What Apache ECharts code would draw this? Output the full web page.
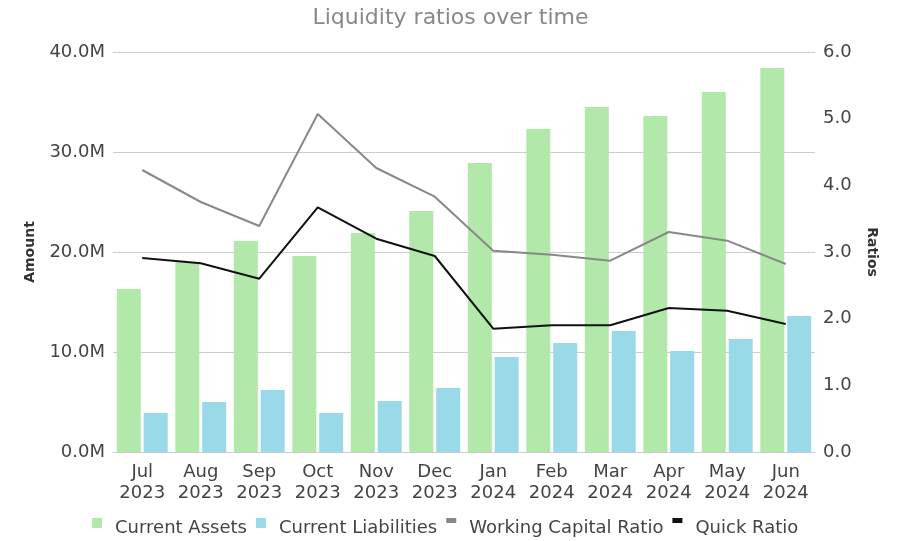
<!DOCTYPE html>
<html>
<head>
<meta charset="utf-8">
<script src="https://cdn.jsdelivr.net/npm/echarts@6/dist/echarts.min.js"></script>
<style>
  html, body { margin: 0; padding: 0; background: #fff; }
  #chart { width: 901px; height: 541px; }
</style>
</head>
<body>
<div id="chart"></div>
<script>
// months on the x axis
var months = ["Jul\n2023", "Aug\n2023", "Sep\n2023", "Oct\n2023", "Nov\n2023", "Dec\n2023",
  "Jan\n2024", "Feb\n2024", "Mar\n2024", "Apr\n2024", "May\n2024", "Jun\n2024"];
// amounts (in dollars)
var currentAssets = [16300000, 19000000, 21100000, 19600000, 21900000, 24100000,
  28900000, 32300000, 34500000, 33600000, 36000000, 38400000];
var currentLiabilities = [3900000, 5000000, 6200000, 3900000, 5100000, 6400000,
  9500000, 10900000, 12100000, 10100000, 11300000, 13600000];
// ratios
var workingCapitalRatio = [4.23, 3.75, 3.39, 5.07, 4.26, 3.83, 3.02, 2.96, 2.87, 3.30, 3.17, 2.82];
var quickRatio = [2.91, 2.83, 2.60, 3.67, 3.20, 2.94, 1.85, 1.90, 1.90, 2.16, 2.12, 1.92];

(function () {
  var myChart = echarts.init(document.getElementById('chart'));
  var font = 'DejaVu Sans, Verdana, sans-serif';
  // 图例图标：方块 / 细条，右侧留白
  var boxIcon = 'path://M0,0L10,0L10,10L0,10Z M17.99,19.99L18,19.99L18,20Z';
  var lineIcon = 'path://M0,0L10,0L10,5L0,5Z M17.99,19.99L18,19.99L18,20Z';

  var option = {
    textStyle: { fontFamily: font },
    title: {
      text: 'Liquidity ratios over time',
      left: 'center',
      top: 2,
      textStyle: { color: '#888', fontSize: 22, fontWeight: 'normal', fontFamily: font }
    },
    legend: {
      bottom: -2,
      left: 87,
      itemWidth: 18,
      itemHeight: 20,
      itemGap: 9,
      textStyle: { color: '#444', fontSize: 18, fontFamily: font },
      data: [
        { name: 'Current Assets', icon: boxIcon },
        { name: 'Current Liabilities', icon: boxIcon },
        { name: 'Working Capital Ratio', icon: lineIcon },
        { name: 'Quick Ratio', icon: lineIcon }
      ]
    },
    grid: {
      left: 113,
      right: 86,
      top: 52,
      bottom: 89
    },
    xAxis: {
      type: 'category',
      data: months,
      axisTick: { show: false },
      axisLine: { lineStyle: { color: '#ccc' } },
      axisLabel: { color: '#444', fontSize: 18, lineHeight: 21, margin: 10, interval: 0, hideOverlap: false, fontFamily: font }
    },
    yAxis: [{
      type: 'value',
      name: 'Amount',
      nameLocation: 'middle',
      nameRotate: 90,
      nameGap: 76,
      nameTextStyle: { color: '#333', fontSize: 14, fontWeight: 'bold', fontFamily: font },
      min: 0,
      max: 40000000,
      interval: 10000000,
      axisLine: { show: false },
      axisTick: { show: false },
      axisLabel: {
        color: '#444', fontSize: 18, margin: 8, fontFamily: font,
        formatter: function (v) { return (v / 1000000).toFixed(1) + 'M'; }
      },
      splitLine: { lineStyle: { color: '#ccc' } }
    }, {
      type: 'value',
      name: 'Ratios',
      nameLocation: 'middle',
      nameRotate: 270,
      nameGap: 50,
      nameTextStyle: { color: '#333', fontSize: 14, fontWeight: 'bold', fontFamily: font },
      min: 0,
      max: 6,
      interval: 1,
      axisLine: { show: false },
      axisTick: { show: false },
      axisLabel: {
        color: '#444', fontSize: 18, margin: 8, fontFamily: font,
        formatter: function (v) { return v.toFixed(1); }
      },
      splitLine: { show: false }
    }],
    series: [{
      name: 'Current Assets',
      type: 'bar',
      yAxisIndex: 0,
      barGap: '12%',
      barCategoryGap: '13%',
      itemStyle: { color: '#b2e8a9' },
      data: currentAssets
    }, {
      name: 'Current Liabilities',
      type: 'bar',
      yAxisIndex: 0,
      itemStyle: { color: '#9ad9e8' },
      data: currentLiabilities
    }, {
      name: 'Working Capital Ratio',
      type: 'line',
      yAxisIndex: 1,
      symbol: 'none',
      z: 5,
      itemStyle: { color: '#888' },
      lineStyle: { color: '#888', width: 2 },
      data: workingCapitalRatio
    }, {
      name: 'Quick Ratio',
      type: 'line',
      yAxisIndex: 1,
      symbol: 'none',
      z: 5,
      itemStyle: { color: '#111' },
      lineStyle: { color: '#111', width: 2 },
      data: quickRatio
    }]
  };
  myChart.setOption(option);
})();
</script>
</body>
</html>
